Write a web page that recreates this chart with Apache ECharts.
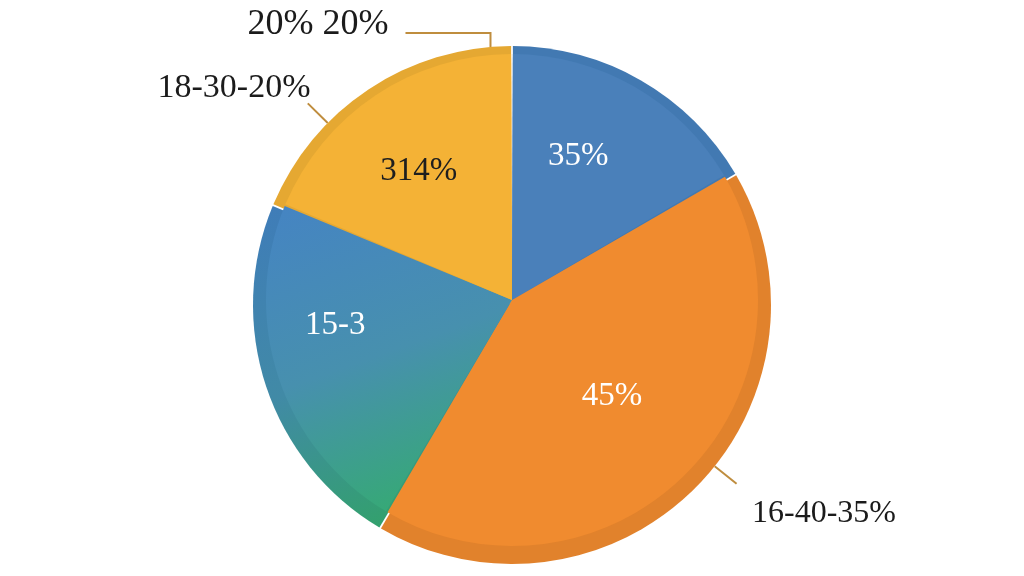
<!DOCTYPE html>
<html>
<head>
    <meta charset="utf-8">
    <title>Pie</title>
    <script src="https://cdn.jsdelivr.net/npm/echarts@6/dist/echarts.min.js"></script>
    <style>
        html, body { margin: 0; padding: 0; background: #ffffff; }
        #chart { width: 1024px; height: 576px; }
    </style>
</head>
<body>
<div id="chart"></div>
<script>
    // slices, clockwise from 12 o'clock
    var sliceNames = ['blue', 'orange', 'teal', 'yellow'];
    var sliceValues = [16.6, 41.9, 22.8, 18.7];
    var innerLabels = ['35%', '45%', '15-3', '314%'];
    var sideLabels = ['', '16-40-35%', '', '18-30-20%'];
    var topLabels = ['', '', '', '20% 20%'];

    var CX = 512, CY = 300, R = 246;          // face of the pie
    var RIM_CY = 305, RIM_R = 259;            // darker rim behind it
    var FONT = 'Liberation Serif';

    var faceColors = [
        '#4a80ba',
        '#f08b2f',
        new echarts.graphic.LinearGradient(0, 0, 0.45, 1, [
            { offset: 0, color: '#4584c3' },
            { offset: 0.55, color: '#4790ae' },
            { offset: 1, color: '#37a878' }
        ]),
        '#f4b236'
    ];
    var rimColors = [
        '#4279b2',
        '#e1822c',
        new echarts.graphic.LinearGradient(0, 0, 0.45, 1, [
            { offset: 0, color: '#3f7cb9' },
            { offset: 0.55, color: '#418aa6' },
            { offset: 1, color: '#33a06e' }
        ]),
        '#e5a832'
    ];
    var textColors = ['#ffffff', '#ffffff', '#ffffff', '#1e1e1e'];

    // small nudges of the inside labels from the ring midpoint
    var innerNudge = [[-15, -2], [-15, -19], [-22, -26], [-3, 7]];
    // where the callout texts sit (text centre) and their size
    var sidePos = { 1: [824, 514], 3: [234, 88] };
    var sideSize = { 1: 32, 3: 34 };
    var topPos = { 3: [318, 25] };

    function slices(colors) {
        return sliceNames.map(function (n, i) {
            return { name: n, value: sliceValues[i], itemStyle: { color: colors[i] } };
        });
    }

    function labelled(texts, sizes) {
        return sliceNames.map(function (n, i) {
            var on = texts[i] !== '';
            var lab = { show: on, formatter: texts[i] };
            if (sizes && sizes[i]) lab.fontSize = sizes[i];
            return { name: n, value: sliceValues[i], label: lab, labelLine: { show: on } };
        });
    }

    var clear = { color: 'rgba(0,0,0,0)', borderWidth: 0 };
    var calloutText = { fontFamily: FONT, fontSize: 36, color: '#1b1b1b', lineHeight: 36 };
    var calloutLine = { lineStyle: { color: '#bf8d3e', width: 2 } };

    var chart = echarts.init(document.getElementById('chart'));
    chart.setOption({
        animation: false,
        backgroundColor: '#ffffff',
        series: [
            {
                type: 'pie', silent: true, center: [CX, RIM_CY], radius: RIM_R,
                startAngle: 90, padAngle: 0.4, label: { show: false }, labelLine: { show: false },
                itemStyle: { borderWidth: 0 },
                data: slices(rimColors)
            },
            {
                type: 'pie', silent: true, center: [CX, CY], radius: R,
                startAngle: 90, padAngle: 0.4, label: { show: false }, labelLine: { show: false },
                itemStyle: { borderWidth: 0 },
                data: slices(faceColors)
            },
            {
                // inside labels
                type: 'pie', silent: true, center: [CX, CY], radius: [0, 320],
                startAngle: 90, itemStyle: clear, labelLine: { show: false },
                label: {
                    show: true, position: 'inside', fontFamily: FONT, fontSize: 33,
                    formatter: function (p) { return innerLabels[p.dataIndex]; }
                },
                labelLayout: function (p) {
                    var r = p.labelRect, d = innerNudge[p.dataIndex];
                    return {
                        x: r.x + r.width / 2 + d[0], y: r.y + r.height / 2 + d[1],
                        align: 'center', verticalAlign: 'middle'
                    };
                },
                data: sliceNames.map(function (n, i) {
                    return { name: n, value: sliceValues[i], label: { color: textColors[i] } };
                })
            },
            {
                // side callouts: short radial tick pointing at the label's nearest corner
                type: 'pie', silent: true, center: [CX, RIM_CY], radius: RIM_R,
                startAngle: 90, avoidLabelOverlap: false, itemStyle: clear,
                label: Object.assign({ position: 'outside' }, calloutText),
                labelLine: Object.assign({ length: 15, length2: 15 }, calloutLine),
                labelLayout: function (p) {
                    var pos = sidePos[p.dataIndex];
                    if (!pos) return {};
                    var w = p.labelRect.width, h = p.labelRect.height;
                    var cornerX = pos[0] < CX ? pos[0] + w / 2 : pos[0] - w / 2;
                    var cornerY = pos[1] < RIM_CY ? pos[1] + h / 2 : pos[1] - h / 2;
                    var vx = cornerX - CX, vy = cornerY - RIM_CY;
                    var len = Math.sqrt(vx * vx + vy * vy);
                    var ux = vx / len, uy = vy / len;
                    return {
                        x: pos[0], y: pos[1], align: 'center', verticalAlign: 'middle',
                        labelLinePoints: [
                            [CX + ux * RIM_R, RIM_CY + uy * RIM_R],
                            [CX + ux * (RIM_R + 28), RIM_CY + uy * (RIM_R + 28)]
                        ]
                    };
                },
                data: labelled(sideLabels, sideSize)
            },
            {
                // top callout with an elbow line
                type: 'pie', silent: true, center: [CX, RIM_CY], radius: RIM_R,
                startAngle: 90, avoidLabelOverlap: false, itemStyle: clear,
                label: Object.assign({ position: 'outside' }, calloutText),
                labelLine: Object.assign({ length: 15, length2: 15 }, calloutLine),
                labelLayout: function (p) {
                    var pos = topPos[p.dataIndex];
                    if (!pos) return {};
                    var right = pos[0] + p.labelRect.width / 2;
                    var ly = pos[1] + 8;
                    var lx = right + 102;
                    var arcY = RIM_CY - Math.sqrt(RIM_R * RIM_R - (lx - CX) * (lx - CX));
                    return {
                        x: pos[0], y: pos[1], align: 'center', verticalAlign: 'middle',
                        labelLinePoints: [[lx, arcY], [lx, ly], [right + 17, ly]]
                    };
                },
                data: labelled(topLabels)
            }
        ]
    });
</script>
</body>
</html>
